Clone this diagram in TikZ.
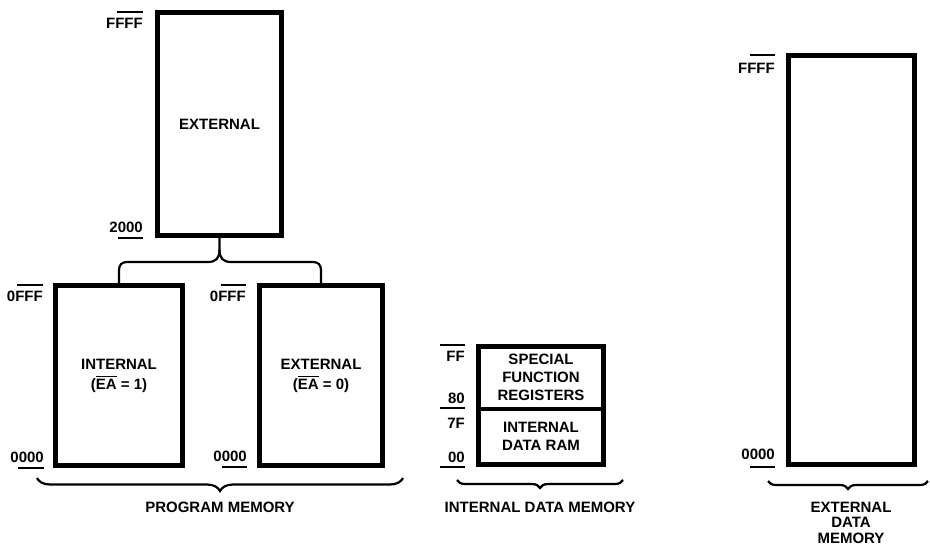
\documentclass[tikz,border=0pt]{standalone}
\usepackage{fontspec}
\setmainfont{Liberation Sans}
\usetikzlibrary{decorations.pathreplacing}
\newcommand\ovl[1]{\leavevmode\vbox{\hrule height 1.3pt \kern 1.6pt \hbox{#1}}}
\begin{document}
\begin{tikzpicture}[x=1pt,y=-1pt,
  mem/.style={draw, line width=4.5pt, line join=miter, inner sep=0pt, align=center,
    font=\fontsize{15}{18}\selectfont\bfseries},
  lbl/.style={font=\fontsize{15}{17}\selectfont\bfseries, inner sep=0pt, align=center},
  addr/.style={lbl, anchor=east},
  tickline/.style={line width=1.7pt},
  brline/.style={line width=2.2pt},
  brc/.style={line width=2.2pt, decorate, decoration={brace, mirror, amplitude=#1}},
  brc/.default=8pt
]
\useasboundingbox (0,0) rectangle (930,547);

% ---------- program memory ----------
\node[mem, minimum width=124pt, minimum height=223pt] (ext) at (219.5,124) {EXTERNAL};
\node[addr] (ffff1) at (143,23) {FFFF};
\draw[tickline] (117,12) -- (143,12);
\node[addr] (a2000) at (143,227) {2000};
\draw[tickline] (118,238) -- (143,238);

\node[mem, minimum width=127pt, minimum height=180pt] (intl) at (119,375.5)
  {INTERNAL\\[2pt](\ovl{EA} = 1)};
\node[addr] (offf1) at (43,296) {0FFF};
\draw[tickline] (17,285) -- (43,285);
\node[addr] (z1) at (44,457) {0000};
\draw[tickline] (18,468) -- (44,468);

\node[mem, minimum width=123pt, minimum height=180pt] (extl) at (321,375.5)
  {EXTERNAL\\[2pt](\ovl{EA} = 0)};
\node[addr] (offf2) at (246,296) {0FFF};
\draw[tickline] (221,285) -- (246,285);
\node[addr] (z2) at (247,456) {0000};
\draw[tickline] (222,467) -- (247,467);

% brace joining the two lower blocks to the upper block
\draw[brline] (intl.north) -- (119,272) .. controls (119,264) and (121,262) .. (129,262)
  -- (208,262) .. controls (216,262) and (219.5,258) .. (219.5,250) -- (ext.south);
\draw[brline] (extl.north) -- (321,272) .. controls (321,264) and (319,262) .. (311,262)
  -- (231,262) .. controls (223,262) and (219.5,258) .. (219.5,250);

\coordinate (pmL) at (37,478);
\coordinate (pmR) at (403,478);
\draw[brc=13pt] (pmL) -- (pmR);
\node[lbl] (pm) at (220,507) {PROGRAM MEMORY};

% ---------- internal data memory ----------
\node[mem, minimum width=125pt, minimum height=62.5pt] (sfr) at (541,377.75)
  {SPECIAL\\FUNCTION\\REGISTERS};
\node[mem, minimum width=125pt, minimum height=55.5pt] (ram) at (541,436.75)
  {INTERNAL\\DATA RAM};
\node[addr] (ff) at (465,356) {FF};
\draw[tickline] (440,345) -- (465,345);
\node[addr] (e80) at (465,398) {80};
\draw[tickline] (440,408) -- (465,408);
\node[addr] (e7f) at (465,423) {7F};
\node[addr] (e00) at (465,457) {00};
\draw[tickline] (440,467) -- (465,467);

\coordinate (idL) at (457,480);
\coordinate (idR) at (623,480);
\draw[brc=8pt] (idL) -- (idR);
\node[lbl] (idm) at (540,507) {INTERNAL DATA MEMORY};

% ---------- external data memory ----------
\node[mem, minimum width=126pt, minimum height=409pt] (xd) at (851.5,260) {};
\node[addr] (ffff2) at (775,68) {FFFF};
\draw[tickline] (750,55) -- (775,55);
\node[addr] (z3) at (775,454) {0000};
\draw[tickline] (750,467) -- (775,467);

\coordinate (edL) at (768,481);
\coordinate (edR) at (928,481);
\draw[brc=8pt] (edL) -- (edR);
\node[lbl, font=\fontsize{15}{15.5}\selectfont\bfseries] (edm) at (851,522.5)
  {EXTERNAL\\DATA\\MEMORY};
\end{tikzpicture}
\end{document}
